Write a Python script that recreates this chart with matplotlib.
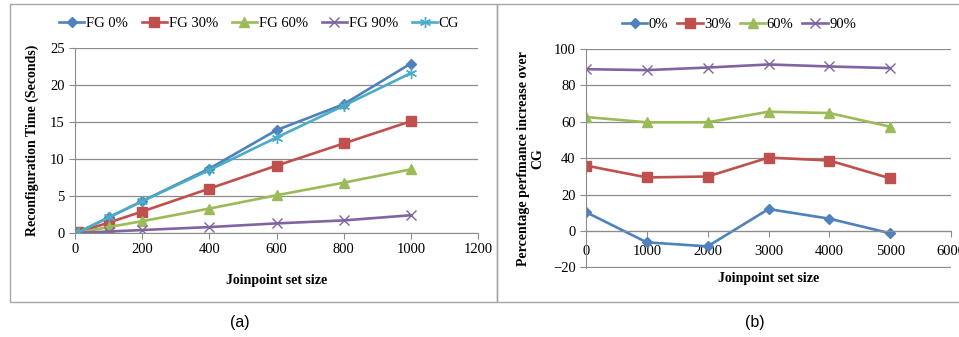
import matplotlib.pyplot as plt
from matplotlib.patches import Rectangle

plt.rcParams['font.family'] = ['Liberation Serif', 'DejaVu Serif']

# panel (a): reconfiguration time
sizes_a = [10, 100, 200, 400, 600, 800, 1000]
fg0 = [0.1, 2.1, 4.3, 8.7, 13.9, 17.4, 22.9]
fg30 = [0.1, 1.4, 2.9, 6.0, 9.1, 12.1, 15.1]
fg60 = [0.05, 0.8, 1.6, 3.3, 5.1, 6.8, 8.6]
fg90 = [0.02, 0.2, 0.4, 0.8, 1.3, 1.7, 2.4]
cg = [0.1, 2.1, 4.3, 8.5, 12.9, 17.2, 21.6]

# panel (b): percentage increase over CG
sizes_b = [0, 1000, 2000, 3000, 4000, 5000]
p0 = [10.3, -6.3, -8.5, 12.0, 6.7, -1.3]
p30 = [35.9, 29.4, 29.9, 40.3, 38.7, 28.9]
p60 = [62.6, 59.7, 59.7, 65.5, 64.8, 57.3]
p90 = [88.9, 88.4, 89.8, 91.5, 90.4, 89.5]

blue, red, green, purple, cyan = '#4F81BD', '#C0504D', '#9BBB59', '#8064A2', '#4BACC6'
grid_c = '#8c8c8c'
W, H = 959, 337

fig = plt.figure(figsize=(W / 100, H / 100), dpi=100)

def px_axes(x0, y0, x1, y1):
    return fig.add_axes([x0 / W, 1 - y1 / H, (x1 - x0) / W, (y1 - y0) / H])

def style(ax):
    for s in ['top', 'right']:
        ax.spines[s].set_visible(False)
    for s in ['left', 'bottom']:
        ax.spines[s].set_color(grid_c)
    ax.tick_params(colors=grid_c, labelcolor='black', labelsize=10.5, length=4, direction='out')
    ax.yaxis.grid(True, color=grid_c, lw=0.9)
    ax.set_axisbelow(True)

# panel borders
for x0, x1 in [(10, 497), (497, 962)]:
    fig.add_artist(Rectangle((x0 / W, 1 - 302 / H), (x1 - x0) / W, 298 / H,
                             transform=fig.transFigure, fill=False, ec='#a6a6a6', lw=1))

lw, ms = 1.9, 6
leg_kw = dict(frameon=False, fontsize=10.5, handlelength=1.75, handletextpad=0.1, borderpad=0)

ax1 = px_axes(75, 48, 478, 233)
style(ax1)
ax1.plot(sizes_a, fg0, color=blue, marker='D', ms=ms - 1, lw=lw, label='FG 0%')
ax1.plot(sizes_a, fg30, color=red, marker='s', ms=ms + 1, lw=lw, label='FG 30%')
ax1.plot(sizes_a, fg60, color=green, marker='^', ms=ms + 1, lw=lw, label='FG 60%')
ax1.plot(sizes_a, fg90, color=purple, marker='x', ms=ms + 1, mew=1, lw=lw, label='FG 90%')
ax1.plot(sizes_a, cg, color=cyan, marker=(6, 2, 0), ms=ms + 2, mew=1, lw=lw, label='CG')
ax1.set_xlim(0, 1200)
ax1.set_ylim(0, 25)
ax1.set_xticks(range(0, 1201, 200))
ax1.set_yticks(range(0, 26, 5))
ax1.set_xlabel('Joinpoint set size', fontsize=10, fontweight='bold', labelpad=13)
ax1.set_ylabel('Reconfiguration Time (Seconds)', fontsize=10, fontweight='bold', labelpad=8)
ax1.legend(loc='center', bbox_to_anchor=(259 / W, 1 - 23 / H), bbox_transform=fig.transFigure,
           ncol=5, columnspacing=0.95, **leg_kw)

ax2 = px_axes(586, 49, 951, 268)
style(ax2)
ax2.plot(sizes_b, p0, color=blue, marker='D', ms=ms - 1, lw=lw, label='0%')
ax2.plot(sizes_b, p30, color=red, marker='s', ms=ms + 1, lw=lw, label='30%')
ax2.plot(sizes_b, p60, color=green, marker='^', ms=ms + 1, lw=lw, label='60%')
ax2.plot(sizes_b, p90, color=purple, marker='x', ms=ms + 1, mew=1, lw=lw, label='90%')
ax2.set_xlim(0, 6000)
ax2.set_ylim(-20.4, 100)
ax2.set_xticks(range(0, 6001, 1000))
ax2.set_yticks(range(-20, 101, 20))
ax2.spines['bottom'].set_position(('data', 0))
ax2.tick_params(axis='x', pad=6)
ax2.set_xlabel('Joinpoint set size', fontsize=10, fontweight='bold')
ax2.xaxis.set_label_coords(0.5, -0.02)
ax2.set_ylabel('Percentage perfmance increase over\nCG', fontsize=10, fontweight='bold',
               labelpad=6, linespacing=1.1)
ax2.legend(loc='center', bbox_to_anchor=(739 / W, 1 - 24 / H), bbox_transform=fig.transFigure,
           ncol=4, columnspacing=0.6, **leg_kw)

fig.text(240 / W, 1 - 322 / H, '(a)', family='Liberation Sans', fontsize=11.5, ha='center', va='center')
fig.text(755 / W, 1 - 322 / H, '(b)', family='Liberation Sans', fontsize=11.5, ha='center', va='center')

fig.savefig('out.png', dpi=100)
